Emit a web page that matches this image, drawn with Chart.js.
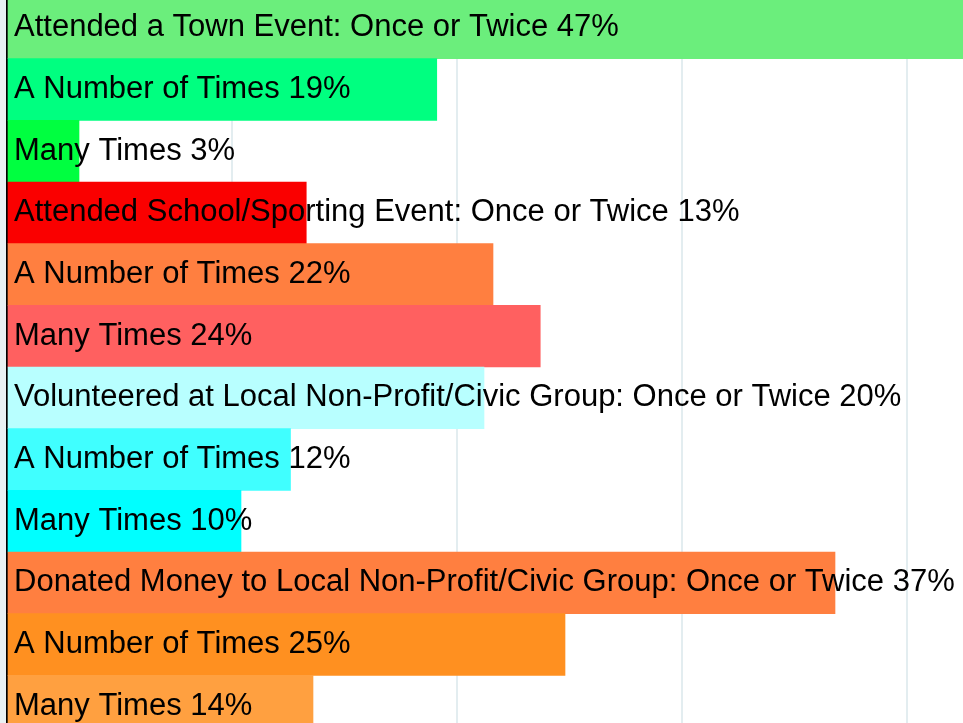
<!DOCTYPE html>
<html>
<head>
<meta charset="utf-8">
<script src="https://cdn.jsdelivr.net/npm/chart.js@4/dist/chart.umd.min.js"></script>
<style>
html,body{margin:0;padding:0;width:963px;height:723px;overflow:hidden;background:#e9f1f3;}
#wrap{position:absolute;left:0;top:-3px;width:1132px;height:740px;}
</style>
</head>
<body>
<div id="wrap"><canvas id="c"></canvas></div>
<script>
const categories = [
  "Attended a Town Event: Once or Twice",
  "A Number of Times",
  "Many Times",
  "Attended School/Sporting Event: Once or Twice",
  "A Number of Times",
  "Many Times",
  "Volunteered at Local Non-Profit/Civic Group: Once or Twice",
  "A Number of Times",
  "Many Times",
  "Donated Money to Local Non-Profit/Civic Group: Once or Twice",
  "A Number of Times",
  "Many Times"
];
const percentLabels = ["47%","19%","3%","13%","22%","24%","20%","12%","10%","37%","25%","14%"];
const values = [47, 19.1, 3.2, 13.3, 21.6, 23.7, 21.2, 12.6, 10.4, 36.8, 24.8, 13.6];
const barColors = ["#6bee7c","#00ff80","#00ff40","#fa0000","#ff7f40","#ff6060","#b8ffff","#40ffff","#00ffff","#ff7f40","#ff9020","#ffa040"];

const bgPlugin = {
  id: 'bg',
  beforeDraw(chart) {
    const {ctx, chartArea: a} = chart;
    ctx.save();
    ctx.fillStyle = '#ffffff';
    ctx.fillRect(a.left, a.top, a.right - a.left, a.bottom - a.top);
    ctx.restore();
  }
};
const labelPlugin = {
  id: 'barLabels',
  afterDatasetsDraw(chart) {
    const {ctx} = chart;
    const meta = chart.getDatasetMeta(0);
    ctx.save();
    ctx.font = '31px "Liberation Sans", Arial, sans-serif';
    ctx.fillStyle = '#000';
    ctx.textBaseline = 'middle';
    ctx.textAlign = 'left';
    meta.data.forEach((bar, i) => {
      ctx.fillText(categories[i] + ' ' + percentLabels[i], bar.base + 6, bar.y);
    });
    ctx.restore();
  }
};

new Chart(document.getElementById('c'), {
  type: 'bar',
  data: {
    labels: categories,
    datasets: [{
      data: values,
      backgroundColor: barColors,
      borderWidth: 0,
      barPercentage: 1,
      categoryPercentage: 1
    }]
  },
  options: {
    indexAxis: 'y',
    responsive: true,
    maintainAspectRatio: false,
    animation: false,
    layout: {padding: {left: 7, right: 0, top: 0, bottom: 0}},
    plugins: {legend: {display: false}, tooltip: {enabled: false}},
    scales: {
      x: {
        min: 0, max: 50,
        ticks: {display: false, stepSize: 10},
        border: {display: false},
        grid: {
          drawTicks: false,
          color: (c) => c.tick && c.tick.value === 0 ? '#000000' : '#e3edf0',
          lineWidth: 2
        }
      },
      y: {display: false}
    }
  },
  plugins: [bgPlugin, labelPlugin]
});
</script>
</body>
</html>
